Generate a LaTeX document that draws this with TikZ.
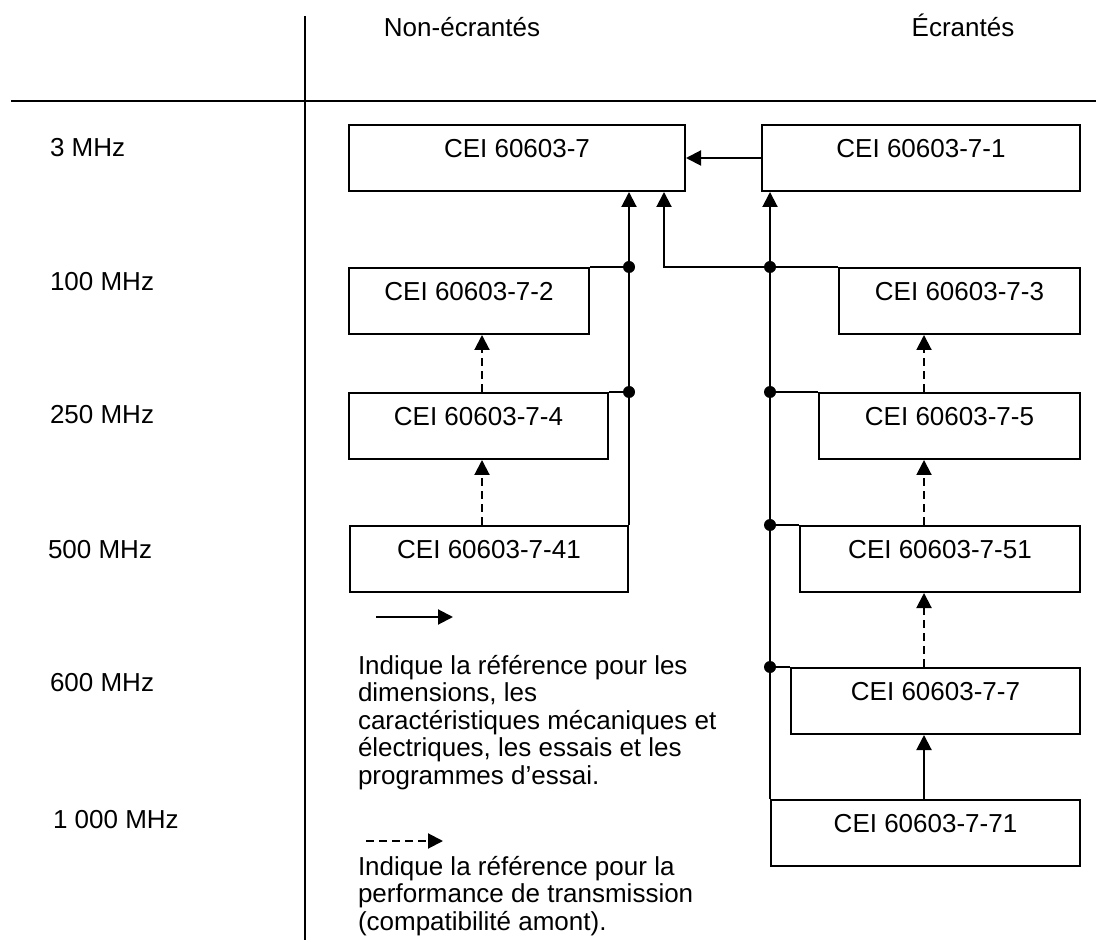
\documentclass[tikz,border=0pt]{standalone}
\usepackage{fontspec}
\setmainfont{Liberation Sans}
\usetikzlibrary{arrows.meta}

\begin{document}
\begin{tikzpicture}[x=0.5pt, y=-0.5pt, line width=1pt,
    every node/.style={font=\fontsize{13pt}{13.75pt}\selectfont},
    ceibox/.style={draw, anchor=north west, inner xsep=0pt, inner ysep=0pt,
      text height=16.4pt, text depth=16.6pt, minimum width=#1},
    ref/.style={-{Triangle[width=7.5pt,length=7.5pt]}},
    perf/.style={ref, dash pattern=on 4pt off 2.5pt},
    freq/.style={anchor=west, inner sep=0pt},
    legend/.style={anchor=north west, align=left, inner sep=0pt}]
    \useasboundingbox (0,0) rectangle (1096,945);

    % frame
    \coordinate (vtop) at (305,16);
    \coordinate (vbot) at (305,940);
    \coordinate (hleft) at (11,101);
    \coordinate (hright) at (1096,101);
    \draw (vtop) -- (vbot);
    \draw (hleft) -- (hright);
    \node[anchor=base] (hnon) at (462,37) {Non-écrantés};
    \node[anchor=base] (hecr) at (963,37) {Écrantés};

    % frequencies
    \node[freq] (f3) at (49,148) {3 MHz};
    \node[freq] (f100) at (49,282) {100 MHz};
    \node[freq] (f250) at (49,415) {250 MHz};
    \node[freq] (f500) at (47,550) {500 MHz};
    \node[freq] (f600) at (49,683) {600 MHz};
    \node[freq] (f1000) at (52,820) {1 000 MHz};

    % boxes
    \node[ceibox=168pt] (b7) at (348,124) {CEI 60603-7};
    \node[ceibox=159pt] (b71) at (761,124) {CEI 60603-7-1};
    \node[ceibox=120pt] (b72) at (348,267) {CEI 60603-7-2};
    \node[ceibox=120.5pt] (b73) at (838,267) {CEI 60603-7-3};
    \node[ceibox=129.5pt] (b74) at (348,392) {CEI 60603-7-4};
    \node[ceibox=130.5pt] (b75) at (818,392) {CEI 60603-7-5};
    \node[ceibox=139pt] (b741) at (349,525) {CEI 60603-7-41};
    \node[ceibox=140pt] (b751) at (799,525) {CEI 60603-7-51};
    \node[ceibox=144.5pt] (b77) at (790,667) {CEI 60603-7-7};
    \node[ceibox=154.5pt] (b771) at (770,799) {CEI 60603-7-71};

    % solid references
    \draw[ref] (b71.west) -- (b7.east);
    \draw[ref] (b741.north east) -- (b741.north east |- b7.south);
    \draw (b72.north east) -- (b72.north east -| b741.north east) coordinate (dl1);
    \draw (b74.north east) -- (b74.north east -| b741.north east) coordinate (dl2);
    \coordinate (jm) at (664,267);
    \draw[ref] (b73.north west) -- (jm) -- (jm |- b7.south);
    \draw[ref] (b771.north west) -- (b771.north west |- b71.south);
    \coordinate (dr1) at (b771.north west |- b73.north);
    \draw (b771.north west |- b75.north) coordinate (dr2) -- (b75.north west);
    \draw (b771.north west |- b751.north) coordinate (dr3) -- (b751.north west);
    \draw (b771.north west |- b77.north) coordinate (dr4) -- (b77.north west);
    \foreach \d in {dl1,dl2,dr1,dr2,dr3,dr4}
      \fill (\d) circle (3pt);

    % transmission references
    \coordinate (colL) at (482,0);
    \coordinate (colR) at (924,0);
    \draw[perf] (b74.north -| colL) -- (b72.south -| colL);
    \draw[perf] (b741.north -| colL) -- (b74.south -| colL);
    \draw[perf] (b75.north -| colR) -- (b73.south -| colR);
    \draw[perf] (b751.north -| colR) -- (b75.south -| colR);
    \draw[perf] (b77.north -| colR) -- (b751.south -| colR);
    \draw[ref] (b771.north -| colR) -- (b77.south -| colR);

    % legend
    \coordinate (ls1) at (376,617);
    \coordinate (le1) at (453,617);
    \draw[ref] (ls1) -- (le1);
    \node[legend] (txt1) at (357,654) {Indique la référence pour les\\dimensions, les\\caractéristiques mécaniques et\\électriques, les essais et les\\programmes d’essai.};
    \coordinate (ls2) at (366,841);
    \coordinate (le2) at (443,841);
    \draw[perf] (ls2) -- (le2);
    \node[legend] (txt2) at (357,855) {Indique la référence pour la\\performance de transmission\\(compatibilité amont).};
\end{tikzpicture}
\end{document}
